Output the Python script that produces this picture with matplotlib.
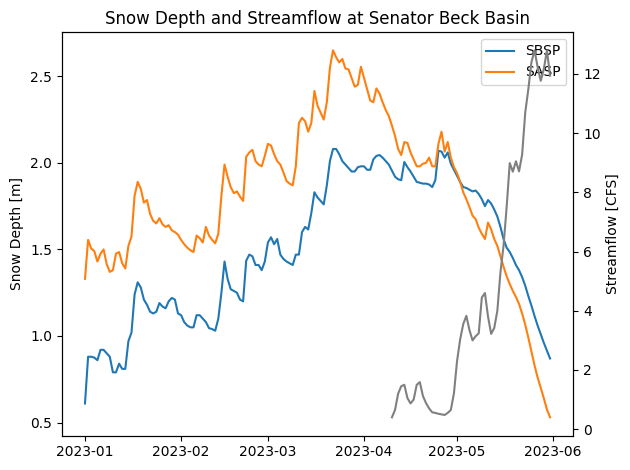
import pandas as pd
import numpy as np
import matplotlib.pyplot as plt

# daily snow depth [m], 2023-01-01 .. 2023-05-31
sbsp = [0.61, 0.88, 0.88, 0.875, 0.86, 0.92, 0.92, 0.90, 0.88, 0.79,
        0.79, 0.84, 0.81, 0.81, 0.97, 1.02, 1.24, 1.31, 1.28, 1.21,
        1.18, 1.14, 1.13, 1.14, 1.19, 1.17, 1.16, 1.20, 1.22, 1.21,
        1.13, 1.12, 1.08, 1.06, 1.05, 1.05, 1.12, 1.12, 1.10, 1.08,
        1.045, 1.04, 1.03, 1.10, 1.25, 1.43, 1.33, 1.27, 1.26, 1.25,
        1.21, 1.20, 1.435, 1.47, 1.46, 1.41, 1.41, 1.38, 1.43, 1.54,
        1.57, 1.53, 1.56, 1.47, 1.445, 1.43, 1.42, 1.41, 1.47, 1.47,
        1.60, 1.63, 1.615, 1.71, 1.83, 1.80, 1.78, 1.76, 1.87, 2.01,
        2.08, 2.08, 2.05, 2.01, 1.99, 1.97, 1.95, 1.95, 1.975, 1.98,
        1.98, 1.96, 1.96, 2.02, 2.04, 2.045, 2.03, 2.01, 1.99, 1.955,
        1.92, 1.905, 1.90, 2.005, 1.975, 1.95, 1.92, 1.89, 1.885, 1.88,
        1.88, 1.875, 1.86, 1.90, 2.07, 2.065, 2.03, 2.06, 1.995, 1.96,
        1.925, 1.89, 1.86, 1.855, 1.845, 1.835, 1.84, 1.82, 1.79, 1.75,
        1.785, 1.765, 1.73, 1.69, 1.63, 1.56, 1.51, 1.485, 1.45, 1.41,
        1.38, 1.34, 1.29, 1.23, 1.175, 1.115, 1.06, 1.01, 0.96, 0.915,
        0.87]

sasp = [1.33, 1.555, 1.505, 1.49, 1.43, 1.475, 1.50, 1.415, 1.37, 1.38,
        1.475, 1.485, 1.42, 1.39, 1.52, 1.575, 1.81, 1.89, 1.85, 1.77,
        1.785, 1.705, 1.665, 1.65, 1.68, 1.645, 1.63, 1.64, 1.61, 1.60,
        1.585, 1.555, 1.53, 1.51, 1.495, 1.485, 1.58, 1.565, 1.54, 1.63,
        1.58, 1.555, 1.535, 1.59, 1.81, 1.99, 1.92, 1.86, 1.825, 1.835,
        1.805, 1.78, 2.035, 2.06, 2.075, 2.01, 1.99, 1.98, 2.04, 2.11,
        2.10, 2.05, 2.01, 1.99, 1.945, 1.895, 1.88, 1.87, 1.98, 2.23,
        2.26, 2.24, 2.18, 2.23, 2.415, 2.33, 2.29, 2.25, 2.35, 2.55,
        2.65, 2.61, 2.58, 2.60, 2.545, 2.54, 2.49, 2.44, 2.45, 2.555,
        2.49, 2.425, 2.36, 2.35, 2.43, 2.40, 2.35, 2.305, 2.27, 2.215,
        2.155, 2.08, 2.045, 2.12, 2.115, 2.06, 2.02, 1.98, 1.98, 1.995,
        2.00, 2.03, 1.98, 1.98, 2.11, 2.18, 2.065, 2.12, 2.03, 1.975,
        1.94, 1.89, 1.83, 1.79, 1.745, 1.695, 1.675, 1.625, 1.59, 1.56,
        1.655, 1.615, 1.56, 1.52, 1.46, 1.40, 1.345, 1.30, 1.26, 1.225,
        1.185, 1.13, 1.065, 0.99, 0.91, 0.83, 0.76, 0.70, 0.64, 0.575,
        0.53]

# daily streamflow [CFS], 2023-04-10 .. 2023-05-31
flow = [0.40, 0.65, 1.20, 1.45, 1.50, 1.05, 0.87, 1.00, 1.50, 1.59,
        1.12, 0.88, 0.70, 0.57, 0.55, 0.52, 0.50, 0.48, 0.55, 0.65,
        1.21, 2.30, 3.03, 3.55, 3.83, 3.35, 3.00, 3.14, 3.24, 4.45,
        4.60, 3.80, 3.22, 3.42, 4.00, 5.30, 6.20, 7.50, 8.99, 8.70,
        9.05, 8.71, 9.28, 10.70, 11.49, 12.40, 12.80, 12.23, 11.77, 12.17,
        12.80, 11.94]

snow_dates = pd.date_range('2023-01-01', periods=len(sbsp), freq='D')
flow_dates = pd.date_range('2023-04-10', periods=len(flow), freq='D')

fig, ax1 = plt.subplots(figsize=(6.3, 4.7), dpi=100)
ax1.plot(snow_dates, sbsp, label='SBSP')
ax1.plot(snow_dates, sasp, label='SASP')
ax1.set_ylabel('Snow Depth [m]')
ax1.legend(loc='upper right')

ax2 = ax1.twinx()
ax2.plot(flow_dates, flow, color='gray')
ax2.set_ylabel('Streamflow [CFS]')

plt.title('Snow Depth and Streamflow at Senator Beck Basin')
plt.subplots_adjust(left=0.098, right=0.91, top=0.932, bottom=0.073)
plt.savefig('out.png')
plt.close()
